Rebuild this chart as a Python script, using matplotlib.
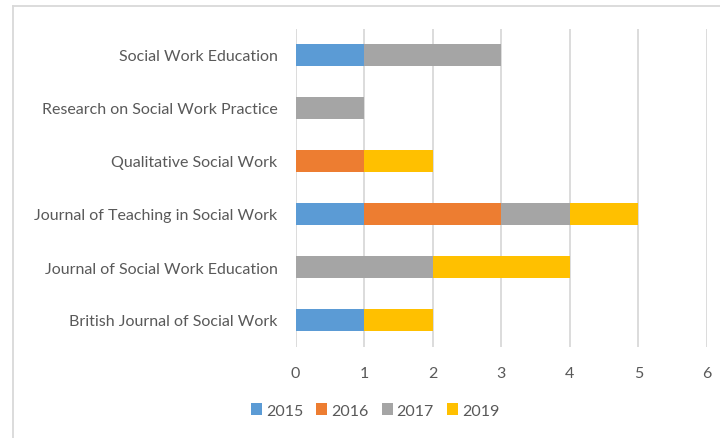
import numpy as np
import matplotlib
matplotlib.use('Agg')
import matplotlib.pyplot as plt
from matplotlib.lines import Line2D

# Datos del grafico: revistas (de abajo hacia arriba) y publicaciones por año
revistas = ['British Journal of Social Work',
            'Journal of Social Work Education',
            'Journal of Teaching in Social Work',
            'Qualitative Social Work',
            'Research on Social Work Practice',
            'Social Work Education']
anios = ['2015', '2016', '2017', '2019']
v2015 = [1, 0, 1, 0, 0, 1]
v2016 = [0, 0, 2, 1, 0, 0]
v2017 = [0, 2, 1, 0, 1, 2]
v2019 = [1, 2, 1, 1, 0, 0]
colores = ['#5B9BD5', '#ED7D31', '#A5A5A5', '#FFC000']

plt.rcParams['font.family'] = ['Lato', 'DejaVu Sans']
gris = '#595959'

fig = plt.figure(figsize=(7.2, 4.39), dpi=100)
ax = fig.add_axes([295.5 / 720, 1 - 347.5 / 439, 411.5 / 720, 318 / 439])

y = np.arange(len(revistas))
izq = np.zeros(len(revistas))
for serie, nombre, color in zip([v2015, v2016, v2017, v2019], anios, colores):
    ax.barh(y, serie, left=izq, height=0.42, color=color, label=nombre, zorder=3)
    izq = izq + np.array(serie)

ax.set_xlim(0, 6)
ax.set_ylim(-0.5, len(revistas) - 0.5)
ax.set_xticks(range(0, 7))
ax.set_yticks(y)
ax.set_yticklabels(revistas)
ax.grid(axis='x', color='#D9D9D9', linewidth=1.3, zorder=0)
for lado in ax.spines.values():
    lado.set_visible(False)
ax.tick_params(axis='both', length=0, colors=gris, labelsize=11.5)
ax.tick_params(axis='y', pad=13)
ax.tick_params(axis='x', pad=14)

# Leyenda abajo, centrada
fig.legend(loc='center', bbox_to_anchor=(0.521, 1 - 411.5 / 439), ncol=4,
           frameon=False, fontsize=11.5, labelcolor=gris,
           handlelength=0.7, handleheight=0.7, handletextpad=0.25,
           columnspacing=0.8)

# Borde del area del grafico (recortado a la derecha y abajo)
fig.add_artist(Line2D([13 / 720, 13 / 720], [0, 1 - 7 / 439], color='#D9D9D9', linewidth=1.3))
fig.add_artist(Line2D([13 / 720, 1], [1 - 7 / 439, 1 - 7 / 439], color='#D9D9D9', linewidth=1.3))

fig.savefig('out.png', dpi=100)
